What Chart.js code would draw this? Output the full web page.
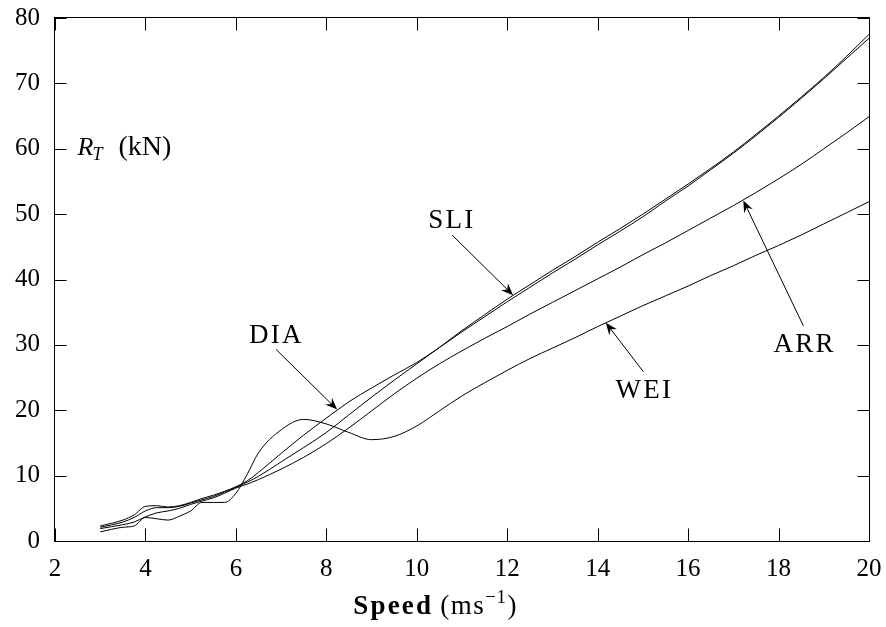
<!DOCTYPE html>
<html>
<head>
<meta charset="utf-8">
<script src="https://cdn.jsdelivr.net/npm/chart.js@4/dist/chart.umd.min.js"></script>
<style>
  html, body { margin: 0; padding: 0; background: #fff; }
  #wrap { width: 886px; height: 627px; }
</style>
</head>
<body>
<div id="wrap"><canvas id="resistanceChart"></canvas></div>
<script>
// Total resistance R_T (kN) against speed (m/s)
const speeds = [3, 3.5, 3.75, 4, 4.25, 4.5, 4.75, 5, 5.25, 5.5, 5.75, 6, 6.25, 6.5,
  7, 7.5, 8, 8.5, 9, 9.5, 10, 10.5, 11, 11.5, 12, 12.5, 13, 13.5, 14, 14.5,
  15, 15.5, 16, 16.5, 17, 17.5, 18, 18.5, 19, 19.5, 20];

const dia = [2.3, 3.2, 4.0, 5.3, 5.4, 5.2, 5.4, 5.9, 6.5, 7.0, 7.6, 8.3, 9.2, 10.5,
  13.4, 16.2, 18.8, 21.3, 23.4, 25.4, 27.3, 29.6, 32.0, 34.3, 36.6, 38.8, 41.0, 43.1, 45.3, 47.4,
  49.6, 52.0, 54.3, 56.8, 59.3, 62.0, 64.8, 67.7, 70.7, 73.8, 76.9];
const sli = [2.1, 2.9, 3.6, 4.6, 5.1, 5.1, 5.3, 5.8, 6.3, 6.8, 7.5, 8.2, 9.0, 9.9,
  12.1, 14.3, 16.6, 19.3, 22.0, 24.6, 27.1, 29.6, 32.2, 34.6, 37.0, 39.2, 41.4, 43.5, 45.7, 47.8,
  50.0, 52.3, 54.6, 57.0, 59.5, 62.2, 65.0, 67.9, 70.9, 74.1, 77.5];
const arr = [1.9, 2.5, 2.9, 3.7, 4.3, 4.6, 5.0, 5.6, 6.1, 6.6, 7.3, 8.1, 8.7, 9.4,
  11.0, 12.8, 14.9, 17.3, 19.9, 22.5, 24.9, 27.1, 29.1, 31.0, 32.8, 34.7, 36.5, 38.3, 40.1, 41.9,
  43.8, 45.6, 47.5, 49.4, 51.3, 53.3, 55.4, 57.6, 60.0, 62.4, 64.9];
const wei = [1.4, 2.1, 2.3, 3.6, 3.4, 3.2, 3.8, 4.6, 5.9, 5.9, 5.9, 7.3, 10.2, 13.5,
  17.0, 18.6, 17.9, 16.6, 15.5, 16.0, 17.6, 19.9, 22.2, 24.2, 26.1, 27.9, 29.5, 31.1, 32.8, 34.4,
  36.0, 37.5, 39.0, 40.6, 42.1, 43.7, 45.2, 46.8, 48.5, 50.2, 51.9];

const xTicks = [2, 4, 6, 8, 10, 12, 14, 16, 18, 20];
const yTicks = [0, 10, 20, 30, 40, 50, 60, 70, 80];

// curve labels: text, label anchor (baseline centre), arrow tail, arrow tip (data units)
const labels = [
  { text: 'DIA', at: [6.87, 30.3], from: [6.89, 29.3], to: [8.24, 20.1] },
  { text: 'SLI', at: [10.75, 47.9], from: [10.78, 46.8], to: [12.13, 37.6] },
  { text: 'WEI', at: [15.01, 21.9], from: [15.01, 25.9], to: [14.18, 33.4] },
  { text: 'ARR', at: [18.55, 28.9], from: [18.55, 32.9], to: [17.22, 52.1] }
];

const SERIF = "'Liberation Serif', 'DejaVu Serif', serif";

function series(values) {
  return values.map((v, i) => ({ x: speeds[i], y: v }));
}

function line(label, values) {
  return {
    label: label,
    data: series(values),
    borderColor: '#000',
    borderWidth: 1,
    pointRadius: 0,
    fill: false,
    cubicInterpolationMode: 'monotone'
  };
}

function arrowHead(ctx, x0, y0, x1, y1) {
  const ang = Math.atan2(y1 - y0, x1 - x0);
  const len = 13, notch = 8, spread = 0.38;
  ctx.beginPath();
  ctx.moveTo(x1, y1);
  ctx.lineTo(x1 - len * Math.cos(ang - spread), y1 - len * Math.sin(ang - spread));
  ctx.lineTo(x1 - notch * Math.cos(ang), y1 - notch * Math.sin(ang));
  ctx.lineTo(x1 - len * Math.cos(ang + spread), y1 - len * Math.sin(ang + spread));
  ctx.closePath();
  ctx.fill();
}

// frame with inward ticks on all four sides, labels, arrows and axis title
const decorations = {
  id: 'decorations',
  afterDraw(chart) {
    const { ctx, chartArea: a, scales: { x, y } } = chart;
    ctx.save();
    ctx.strokeStyle = '#000';
    ctx.fillStyle = '#000';
    ctx.lineWidth = 1;

    const L = Math.round(a.left) - 0.5, R = Math.round(a.right) + 0.5;
    const T = Math.round(a.top) - 0.5, B = Math.round(a.bottom) + 0.5;
    ctx.strokeRect(L, T, R - L, B - T);

    ctx.beginPath();
    xTicks.forEach(t => {
      const px = Math.round(x.getPixelForValue(t)) + 0.5;
      ctx.moveTo(px, B); ctx.lineTo(px, B - 13);
      ctx.moveTo(px, T); ctx.lineTo(px, T + 13);
    });
    yTicks.forEach(t => {
      const py = Math.round(y.getPixelForValue(t)) + 0.5;
      ctx.moveTo(L, py); ctx.lineTo(L + 12, py);
      ctx.moveTo(R, py); ctx.lineTo(R - 12, py);
    });
    ctx.stroke();

    // curve labels with arrows
    ctx.font = '27px ' + SERIF;
    ctx.textAlign = 'center';
    ctx.textBaseline = 'alphabetic';
    labels.forEach(l => {
      ctx.fillText(l.text.split('').join('\u200A'), x.getPixelForValue(l.at[0]), y.getPixelForValue(l.at[1]));
      const x0 = x.getPixelForValue(l.from[0]), y0 = y.getPixelForValue(l.from[1]);
      const x1 = x.getPixelForValue(l.to[0]), y1 = y.getPixelForValue(l.to[1]);
      ctx.beginPath();
      ctx.moveTo(x0, y0);
      const ang = Math.atan2(y1 - y0, x1 - x0);
      ctx.lineTo(x1 - 7 * Math.cos(ang), y1 - 7 * Math.sin(ang));
      ctx.stroke();
      arrowHead(ctx, x0, y0, x1, y1);
    });

    // R_T (kN)
    ctx.textAlign = 'left';
    let rx = x.getPixelForValue(2.5), ry = y.getPixelForValue(59.0);
    ctx.font = 'italic 26px ' + SERIF;
    ctx.fillText('R', rx, ry);
    rx += ctx.measureText('R').width;
    ctx.font = 'italic 18px ' + SERIF;
    ctx.fillText('T', rx - 1, ry + 5);
    rx += ctx.measureText('T').width + 15;
    ctx.font = '28px ' + SERIF;
    ctx.fillText('(kN)', rx, ry);

    // x axis title: Speed (ms^-1)
    const parts = [
      { t: 'Speed', f: 'bold 27px ' + SERIF, sp: 2.2, dy: 0, gap: 7 },
      { t: '(ms', f: '27px ' + SERIF, sp: 1.5, dy: 0, gap: 0 },
      { t: '\u22121', f: '19px ' + SERIF, sp: 0.5, dy: -11, gap: 1 },
      { t: ')', f: '27px ' + SERIF, sp: 0, dy: 0, gap: 0 }
    ];
    let total = 0;
    parts.forEach(p => {
      ctx.font = p.f;
      ctx.letterSpacing = p.sp + 'px';
      p.w = ctx.measureText(p.t).width;
      total += p.w + p.gap;
    });
    let tx = x.getPixelForValue(10.4) - total / 2;
    const ty = a.bottom + 73;
    parts.forEach(p => {
      ctx.font = p.f;
      ctx.letterSpacing = p.sp + 'px';
      ctx.fillText(p.t, tx, ty + p.dy);
      tx += p.w + p.gap;
    });
    ctx.letterSpacing = '0px';
    ctx.restore();
  }
};

new Chart(document.getElementById('resistanceChart'), {
  type: 'line',
  data: {
    datasets: [line('DIA', dia), line('SLI', sli), line('ARR', arr), line('WEI', wei)]
  },
  options: {
    responsive: true,
    maintainAspectRatio: false,
    animation: false,
    layout: { padding: { top: 18, right: 17, left: 0, bottom: 0 } },
    plugins: { legend: { display: false }, tooltip: { enabled: false } },
    scales: {
      x: {
        type: 'linear',
        min: 2, max: 20,
        afterBuildTicks: s => { s.ticks = xTicks.map(v => ({ value: v })); },
        afterFit: s => { s.height = 86; s.paddingLeft = 0; s.paddingRight = 0; },
        grid: { display: false, drawTicks: false },
        border: { display: false },
        ticks: { color: '#000', padding: 13, maxRotation: 0, font: { family: SERIF, size: 25 } }
      },
      y: {
        type: 'linear',
        min: 0, max: 80,
        afterBuildTicks: s => { s.ticks = yTicks.map(v => ({ value: v })); },
        afterFit: s => { s.width = 55; s.paddingTop = 0; s.paddingBottom = 0; },
        grid: { display: false, drawTicks: false },
        border: { display: false },
        ticks: { color: '#000', padding: 15, font: { family: SERIF, size: 25 } }
      }
    }
  },
  plugins: [decorations]
});
</script>
</body>
</html>
